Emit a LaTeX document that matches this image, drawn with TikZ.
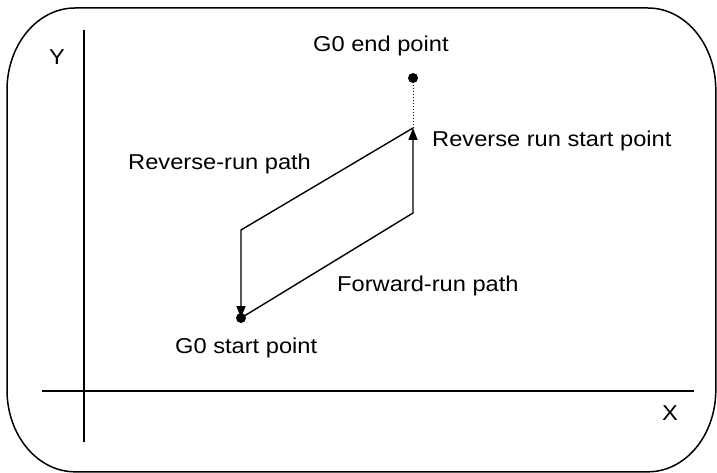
\documentclass[tikz,border=0pt]{standalone}
\usepackage{fontspec}
\setmainfont{Liberation Sans}[FakeStretch=1.1]
\usetikzlibrary{arrows.meta}
\begin{document}
\begin{tikzpicture}[x=1pt,y=-1pt,
  line/.style={line width=1.4pt},
  lbl/.style={inner sep=0pt, anchor=base west, font=\fontsize{21.5}{24}\selectfont},
  clbl/.style={inner sep=0pt, anchor=center, font=\fontsize{21.5}{24}\selectfont},
  dotn/.style={circle, fill=black, inner sep=0pt, minimum size=10pt},
  arr/.style={line, -{Triangle[length=12pt,width=9pt]}}
]
\useasboundingbox (0,0) rectangle (717,473);
% frame
\draw[line width=1.5pt] (7,90) .. controls (7,44.7) and (37.5,8) .. (75,8)
  -- (648,8) .. controls (685.5,8) and (715.8,44.7) .. (715.8,90)
  -- (715.8,390) .. controls (715.8,435.3) and (685.5,471.8) .. (648,471.8)
  -- (75,471.8) .. controls (37.5,471.8) and (7,435.3) .. (7,390) -- cycle;
% axes
\coordinate (ytop) at (84,30);
\coordinate (ybot) at (84,442);
\coordinate (xl) at (42,391);
\coordinate (xr) at (694,391);
\draw[line width=1.3pt] (ytop) -- (ybot);
\draw[line width=1.3pt] (xl) -- (xr);
\node[clbl] (ylab) at (57,57) {Y};
\node[clbl] (xlab) at (670,413) {X};
% points
\node[dotn] (start) at (241,318) {};
\node[dotn] (endp) at (413,78) {};
\coordinate (br) at (413,213);
\coordinate (rs) at (413,128);
\coordinate (tl) at (241,230);
\draw[arr] (start.center) -- (br) -- (rs);
\draw[arr] (rs) -- (tl) -- (start.center);
\draw[dotted, line width=1pt] (rs) -- (endp);
% labels
\node[lbl] (lend) at (313,52) {G0 end point};
\node[lbl] (lrs) at (432,147) {Reverse run start point};
\node[lbl] (lrev) at (128,170) {Reverse-run path};
\node[lbl] (lfwd) at (337,291) {Forward-run path};
\node[lbl] (lstart) at (175,353) {G0 start point};
\end{tikzpicture}
\end{document}
